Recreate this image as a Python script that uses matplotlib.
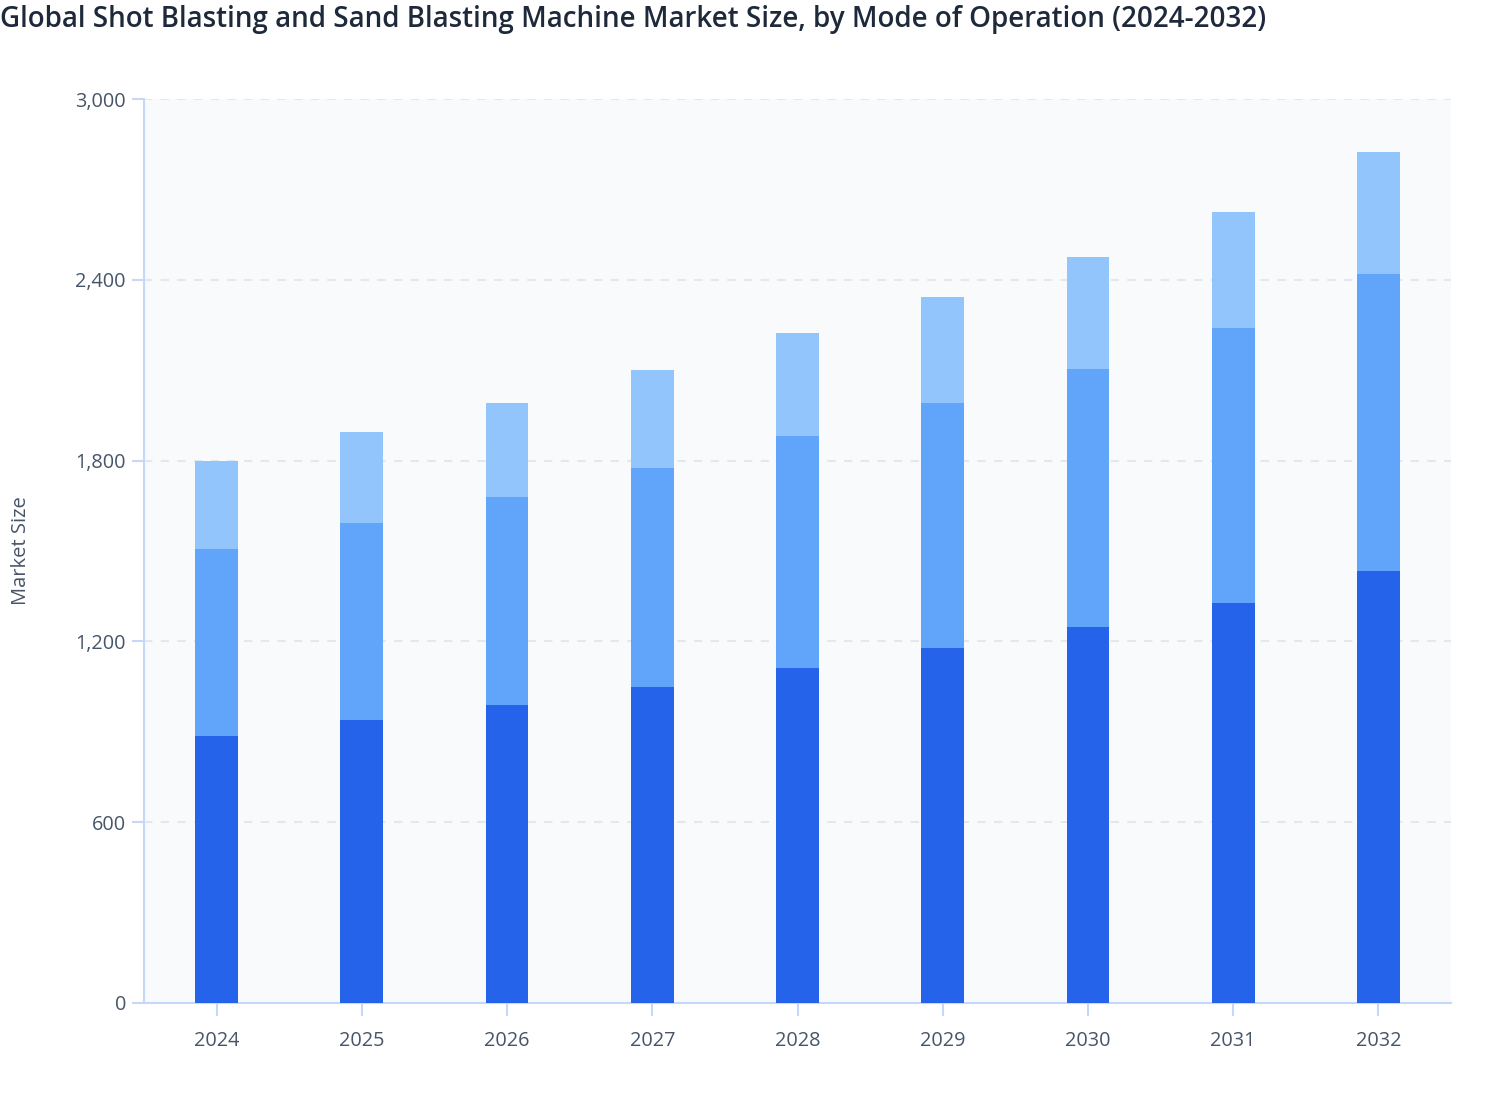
import matplotlib.pyplot as plt
from matplotlib.ticker import FuncFormatter

years = ["2024", "2025", "2026", "2027", "2028", "2029", "2030", "2031", "2032"]
# three modes of operation, stacked bottom to top
seg_bottom = [886, 939, 989, 1049, 1112, 1178, 1248, 1328, 1434]
seg_middle = [621, 654, 690, 727, 770, 813, 856, 912, 986]
seg_top = [292, 302, 312, 325, 342, 352, 372, 385, 404]

plt.rcParams['font.family'] = ['Open Sans', 'DejaVu Sans']

fig = plt.figure(figsize=(15.08, 11.2), dpi=100)
ax = fig.add_axes([0.0955, 0.1045, 0.8667, 0.8071])
ax.set_facecolor("#f8fafc")

x = range(len(years))
w = 0.295
ax.bar(x, seg_bottom, width=w, color="#2563eb", zorder=3)
mid_base = seg_bottom
ax.bar(x, seg_middle, width=w, bottom=mid_base, color="#60a5fa", zorder=3)
top_base = [a + b for a, b in zip(seg_bottom, seg_middle)]
ax.bar(x, seg_top, width=w, bottom=top_base, color="#93c5fd", zorder=3)

ax.set_xlim(-0.5, len(years) - 0.5)
ax.set_ylim(0, 3000)
ax.set_yticks(range(0, 3001, 600))
ax.yaxis.set_major_formatter(FuncFormatter(lambda v, p: f"{int(v):,}"))
ax.set_xticks(list(x))
ax.set_xticklabels(years)

ax.grid(axis="y", color="#e2e8f0", linestyle=(0, (4, 4)), linewidth=1.5, zorder=0)
ax.set_axisbelow(True)

for s in ["top", "right"]:
    ax.spines[s].set_visible(False)
for s in ["left", "bottom"]:
    ax.spines[s].set_color("#c7d7fb")
    ax.spines[s].set_linewidth(1.5)

ax.tick_params(axis="both", colors="#c7d7fb", width=1.5, length=9,
               labelcolor="#475569", labelsize=14.3)
ax.tick_params(axis="y", pad=4)
ax.tick_params(axis="x", pad=11)

ax.set_ylabel("Market Size", fontsize=14.5, color="#475569", labelpad=32)

fig.text(0.0, 0.983, "Global Shot Blasting and Sand Blasting Machine Market Size, by Mode of Operation (2024-2032)",
         fontsize=20, fontweight="semibold", color="#1e293b", ha="left", va="center")

fig.savefig("out.png", dpi=100)
